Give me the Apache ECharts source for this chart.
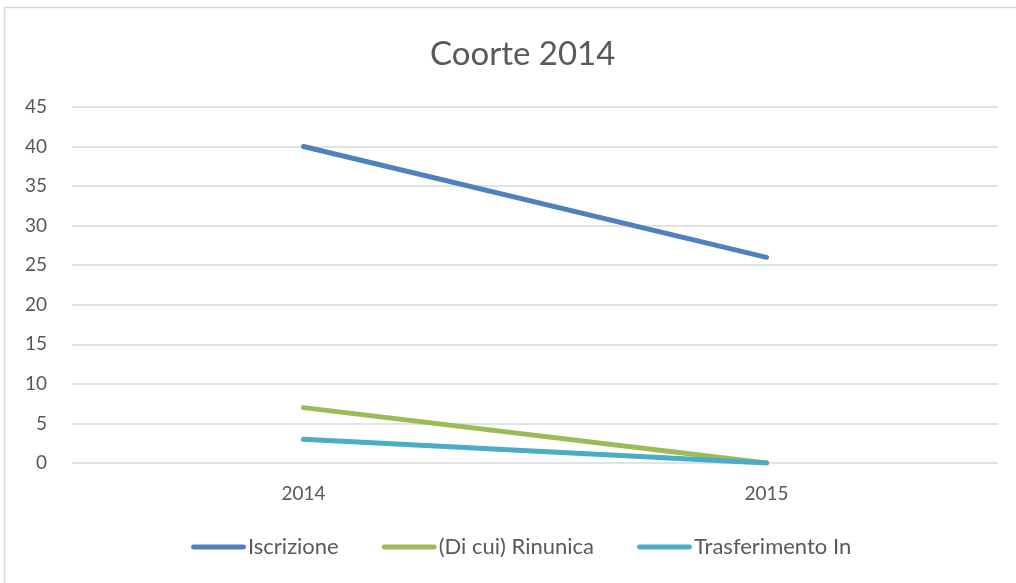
<!DOCTYPE html>
<html>
<head>
<meta charset="utf-8">
<script src="https://cdn.jsdelivr.net/npm/echarts@6/dist/echarts.min.js"></script>
<style>
  html, body { margin: 0; padding: 0; background: #fff; }
  #chart { width: 1016px; height: 583px; }
</style>
</head>
<body>
<div id="chart"></div>
<script>
const years = ['2014', '2015']
const iscrizione = [40, 26]
const rinuncia = [7, 0]
const trasferimentoIn = [3, 0]
const yTicks = { min: 0, max: 45, interval: 5 }

const chart = echarts.init(document.getElementById('chart'))
const font = 'Lato, "Open Sans", sans-serif'
const textColor = '#595959'
const legendIcon = 'path://M2,0 L53,0 A2,2 0 0 1 53,5 L2,5 A2,2 0 0 1 2,0 Z'

const lineSeries = (name, data, color) => ({
  name: name,
  type: 'line',
  data: data,
  symbol: 'none',
  lineStyle: { color: color, width: 5, cap: 'round' },
  itemStyle: { color: color }
})

const option = {
  backgroundColor: '#fff',
  animation: false,
  graphic: [{
    type: 'rect',
    shape: { x: 4.5, y: 7.5, width: 1100, height: 700 },
    style: { fill: 'none', stroke: '#d9d9d9', lineWidth: 1.5 },
    silent: true
  }],
  title: {
    text: 'Coorte 2014',
    left: 425,
    top: 33,
    textStyle: { fontFamily: font, fontSize: 33, fontWeight: 'normal', color: textColor }
  },
  grid: { left: 72, right: 18, top: 107, bottom: 120 },
  legend: {
    bottom: 20,
    left: 186,
    icon: legendIcon,
    itemWidth: 55,
    itemHeight: 5,
    itemGap: 43,
    textStyle: { fontFamily: font, fontSize: 22, color: textColor, padding: [0, 0, 0, -3] }
  },
  xAxis: {
    type: 'category',
    data: years,
    boundaryGap: true,
    axisLine: { show: false },
    axisTick: { show: false },
    axisLabel: { fontFamily: font, fontSize: 19, color: textColor, margin: 21 }
  },
  yAxis: {
    type: 'value',
    min: yTicks.min,
    max: yTicks.max,
    interval: yTicks.interval,
    axisLine: { show: false },
    axisTick: { show: false },
    axisLabel: { fontFamily: font, fontSize: 19, color: textColor, margin: 25 },
    splitLine: { lineStyle: { color: '#d9d9d9', width: 1.5 } }
  },
  series: [
    lineSeries('Iscrizione', iscrizione, '#4f81bd'),
    lineSeries('(Di cui) Rinunica', rinuncia, '#9bbb59'),
    lineSeries('Trasferimento In', trasferimentoIn, '#4bacc6')
  ]
}

chart.setOption(option)
</script>
</body>
</html>
